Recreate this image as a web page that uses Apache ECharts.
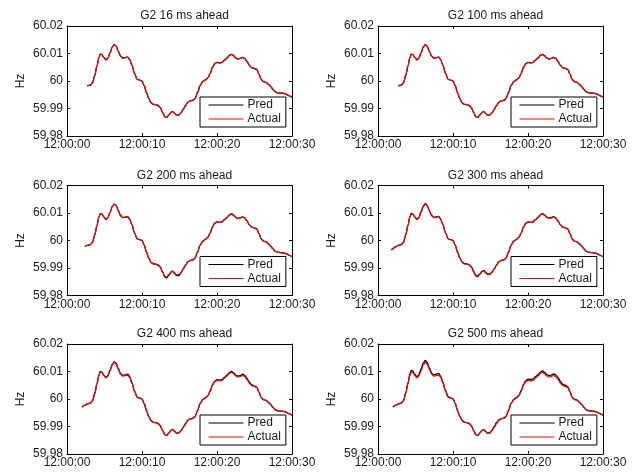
<!DOCTYPE html>
<html>
<head>
<meta charset="utf-8">
<script src="https://cdn.jsdelivr.net/npm/echarts@6/dist/echarts.min.js"></script>
<style>
  html, body { margin: 0; padding: 0; background: #fff; }
  #chart { width: 641px; height: 475px; }
</style>
</head>
<body>
<div id="chart"></div>
<script>
// Sample times, seconds after 12:00:00
const seconds = [
  1.8, 2.0, 2.4, 2.7, 3.1, 3.4, 3.7, 4.0, 4.25, 4.45,
  4.65, 4.9, 5.2, 5.45, 5.75, 6.05, 6.3, 6.55, 6.85, 7.15,
  7.45, 7.75, 8.1, 8.35, 8.65, 9.0, 9.35, 9.7, 10.0, 10.3,
  10.6, 10.9, 11.2, 11.5, 11.85, 12.15, 12.45, 12.75, 13.05, 13.3,
  13.6, 13.9, 14.1, 14.35, 14.6, 14.9, 15.2, 15.5, 15.8, 16.1,
  16.45, 16.8, 17.1, 17.4, 17.75, 18.1, 18.45, 18.8, 19.1, 19.4,
  19.7, 20.0, 20.35, 20.7, 21.0, 21.35, 21.65, 21.95, 22.2, 22.5,
  22.8, 23.1, 23.4, 23.7, 24.0, 24.3, 24.6, 24.95, 25.3, 25.6,
  25.9, 26.2, 26.55, 26.85, 27.15, 27.45, 27.75, 28.1, 28.5, 28.9,
  29.3, 29.65, 30.0
];

// Measured frequency of G2 (Hz)
const actualHz = [
  59.9965, 59.9971, 59.9978, 59.9982, 59.9985, 59.9993, 60.0020, 60.0055, 60.0085, 60.0098,
  60.0096, 60.0086, 60.0077, 60.0083, 60.0103, 60.0124, 60.0132, 60.0127, 60.0108, 60.0090,
  60.0083, 60.0085, 60.0087, 60.0078, 60.0058, 60.0028, 60.0006, 60.0003, 60.0000, 59.9983,
  59.9958, 59.9936, 59.9921, 59.9915, 59.9914, 59.9911, 59.9903, 59.9885, 59.9870, 59.9868,
  59.9877, 59.9887, 59.9889, 59.9882, 59.9876, 59.9876, 59.9884, 59.9897, 59.9910, 59.9922,
  59.9928, 59.9930, 59.9937, 59.9958, 59.9983, 59.9998, 60.0004, 60.0012, 60.0028, 60.0050,
  60.0063, 60.0068, 60.0066, 60.0068, 60.0076, 60.0084, 60.0093, 60.0097, 60.0092, 60.0084,
  60.0080, 60.0082, 60.0086, 60.0082, 60.0071, 60.0058, 60.0049, 60.0046, 60.0042, 60.0025,
  60.0005, 59.9998, 59.9995, 59.9988, 59.9980, 59.9970, 59.9961, 59.9957, 59.9956, 59.9955,
  59.9951, 59.9946, 59.9941
];

// Predicted frequency for each horizon (Hz)
const pred16Hz = [
  59.9965, 59.9971, 59.9978, 59.9982, 59.9985, 59.9993, 60.0020, 60.0055, 60.0085, 60.0098,
  60.0096, 60.0086, 60.0077, 60.0083, 60.0103, 60.0124, 60.0132, 60.0127, 60.0108, 60.0090,
  60.0083, 60.0085, 60.0087, 60.0078, 60.0058, 60.0028, 60.0006, 60.0003, 60.0000, 59.9983,
  59.9958, 59.9936, 59.9921, 59.9915, 59.9914, 59.9911, 59.9903, 59.9885, 59.9870, 59.9868,
  59.9877, 59.9887, 59.9889, 59.9882, 59.9876, 59.9876, 59.9884, 59.9897, 59.9910, 59.9922,
  59.9928, 59.9930, 59.9937, 59.9958, 59.9983, 59.9998, 60.0004, 60.0012, 60.0028, 60.0050,
  60.0063, 60.0068, 60.0066, 60.0068, 60.0076, 60.0084, 60.0093, 60.0097, 60.0092, 60.0084,
  60.0080, 60.0082, 60.0086, 60.0082, 60.0071, 60.0058, 60.0049, 60.0046, 60.0042, 60.0025,
  60.0005, 59.9998, 59.9995, 59.9988, 59.9980, 59.9970, 59.9961, 59.9957, 59.9956, 59.9955,
  59.9951, 59.9946, 59.9941
];
const pred100Hz = [
  59.9965, 59.9971, 59.9978, 59.9982, 59.9985, 59.9993, 60.0020, 60.0055, 60.0085, 60.0098,
  60.0096, 60.0086, 60.0077, 60.0083, 60.0103, 60.0124, 60.0132, 60.0127, 60.0108, 60.0090,
  60.0083, 60.0085, 60.0087, 60.0078, 60.0058, 60.0028, 60.0006, 60.0003, 60.0000, 59.9983,
  59.9958, 59.9936, 59.9921, 59.9915, 59.9914, 59.9911, 59.9903, 59.9885, 59.9870, 59.9868,
  59.9877, 59.9887, 59.9889, 59.9882, 59.9876, 59.9876, 59.9884, 59.9897, 59.9910, 59.9922,
  59.9928, 59.9930, 59.9937, 59.9958, 59.9983, 59.9998, 60.0004, 60.0012, 60.0028, 60.0050,
  60.0063, 60.0068, 60.0066, 60.0068, 60.0076, 60.0084, 60.0093, 60.0097, 60.0092, 60.0084,
  60.0080, 60.0082, 60.0086, 60.0082, 60.0071, 60.0058, 60.0049, 60.0046, 60.0042, 60.0025,
  60.0005, 59.9998, 59.9995, 59.9988, 59.9980, 59.9970, 59.9961, 59.9957, 59.9956, 59.9955,
  59.9951, 59.9946, 59.9941
];
const pred200Hz = [
  59.9965, 59.9971, 59.9978, 59.9982, 59.9985, 59.9993, 60.0020, 60.0055, 60.0085, 60.0098,
  60.0096, 60.0086, 60.0077, 60.0083, 60.0103, 60.0124, 60.0132, 60.0127, 60.0108, 60.0090,
  60.0083, 60.0085, 60.0087, 60.0078, 60.0058, 60.0028, 60.0006, 60.0003, 60.0000, 59.9983,
  59.9958, 59.9936, 59.9921, 59.9915, 59.9914, 59.9911, 59.9903, 59.9884, 59.9867, 59.9864,
  59.9874, 59.9886, 59.9888, 59.9880, 59.9873, 59.9872, 59.9882, 59.9897, 59.9910, 59.9922,
  59.9928, 59.9930, 59.9937, 59.9958, 59.9983, 59.9998, 60.0004, 60.0012, 60.0028, 60.0050,
  60.0063, 60.0068, 60.0066, 60.0068, 60.0076, 60.0084, 60.0093, 60.0097, 60.0092, 60.0084,
  60.0080, 60.0082, 60.0086, 60.0082, 60.0071, 60.0058, 60.0049, 60.0046, 60.0042, 60.0025,
  60.0005, 59.9998, 59.9995, 59.9988, 59.9980, 59.9970, 59.9961, 59.9957, 59.9956, 59.9955,
  59.9951, 59.9946, 59.9941
];
const pred300Hz = [
  59.9965, 59.9971, 59.9978, 59.9982, 59.9985, 59.9993, 60.0020, 60.0055, 60.0086, 60.0099,
  60.0096, 60.0086, 60.0077, 60.0084, 60.0105, 60.0126, 60.0134, 60.0128, 60.0109, 60.0091,
  60.0084, 60.0086, 60.0088, 60.0078, 60.0058, 60.0028, 60.0006, 60.0003, 60.0000, 59.9983,
  59.9958, 59.9937, 59.9922, 59.9916, 59.9915, 59.9912, 59.9905, 59.9888, 59.9873, 59.9871,
  59.9879, 59.9889, 59.9891, 59.9885, 59.9879, 59.9878, 59.9885, 59.9897, 59.9910, 59.9922,
  59.9928, 59.9930, 59.9937, 59.9958, 59.9983, 59.9998, 60.0004, 60.0012, 60.0028, 60.0049,
  60.0062, 60.0067, 60.0066, 60.0068, 60.0076, 60.0084, 60.0094, 60.0098, 60.0093, 60.0085,
  60.0081, 60.0083, 60.0087, 60.0082, 60.0071, 60.0058, 60.0049, 60.0046, 60.0042, 60.0025,
  60.0005, 59.9998, 59.9995, 59.9988, 59.9980, 59.9970, 59.9961, 59.9957, 59.9956, 59.9955,
  59.9951, 59.9946, 59.9941
];
const pred400Hz = [
  59.9965, 59.9971, 59.9978, 59.9982, 59.9985, 59.9993, 60.0020, 60.0056, 60.0087, 60.0100,
  60.0098, 60.0087, 60.0078, 60.0085, 60.0106, 60.0127, 60.0135, 60.0130, 60.0110, 60.0092,
  60.0086, 60.0088, 60.0090, 60.0082, 60.0060, 60.0029, 60.0007, 60.0003, 60.0000, 59.9983,
  59.9958, 59.9936, 59.9921, 59.9915, 59.9914, 59.9911, 59.9903, 59.9885, 59.9870, 59.9868,
  59.9877, 59.9887, 59.9889, 59.9882, 59.9876, 59.9876, 59.9884, 59.9897, 59.9910, 59.9922,
  59.9928, 59.9930, 59.9937, 59.9958, 59.9983, 59.9998, 60.0004, 60.0013, 60.0030, 60.0052,
  60.0065, 60.0070, 60.0069, 60.0071, 60.0079, 60.0087, 60.0096, 60.0100, 60.0095, 60.0087,
  60.0083, 60.0085, 60.0090, 60.0086, 60.0075, 60.0062, 60.0052, 60.0048, 60.0043, 60.0025,
  60.0005, 59.9998, 59.9995, 59.9988, 59.9980, 59.9970, 59.9961, 59.9957, 59.9956, 59.9955,
  59.9951, 59.9946, 59.9941
];
const pred500Hz = [
  59.9965, 59.9971, 59.9978, 59.9982, 59.9985, 59.9994, 60.0023, 60.0059, 60.0090, 60.0104,
  60.0101, 60.0090, 60.0080, 60.0088, 60.0110, 60.0132, 60.0140, 60.0133, 60.0113, 60.0094,
  60.0087, 60.0090, 60.0093, 60.0083, 60.0061, 60.0030, 60.0008, 60.0004, 60.0001, 59.9984,
  59.9959, 59.9938, 59.9923, 59.9916, 59.9914, 59.9911, 59.9903, 59.9885, 59.9870, 59.9868,
  59.9877, 59.9887, 59.9889, 59.9882, 59.9876, 59.9877, 59.9886, 59.9900, 59.9914, 59.9924,
  59.9929, 59.9931, 59.9938, 59.9959, 59.9984, 59.9999, 60.0005, 60.0014, 60.0031, 60.0054,
  60.0066, 60.0072, 60.0071, 60.0073, 60.0081, 60.0089, 60.0098, 60.0102, 60.0097, 60.0089,
  60.0085, 60.0087, 60.0091, 60.0088, 60.0078, 60.0065, 60.0054, 60.0050, 60.0045, 60.0027,
  60.0006, 59.9999, 59.9996, 59.9988, 59.9980, 59.9970, 59.9961, 59.9957, 59.9956, 59.9955,
  59.9951, 59.9946, 59.9941
];

const horizonsMs = [16, 100, 200, 300, 400, 500];
const predSeries = [pred16Hz, pred100Hz, pred200Hz, pred300Hz, pred400Hz, pred500Hz];
// First sample shown in each panel
const firstSample = [3, 3, 2, 0, 1, 1];

const xTickLabels = ['12:00:00', '12:00:10', '12:00:20', '12:00:30'];
const yTickLabels = ['59.98', '59.99', '60', '60.01', '60.02'];

const FONT = '"Liberation Sans", Arial, Helvetica, sans-serif';
const INK = '#1a1a1a';

const colLeft = [67, 378];
const rowTop = [26, 185.5, 344];
const plotW = 225, plotH = 110;

const grids = [], xAxes = [], yAxes = [], titles = [], legends = [], series = [];

horizonsMs.forEach((ms, p) => {
  const col = p % 2, row = Math.floor(p / 2);
  const left = colLeft[col], top = rowTop[row];
  grids.push({ left: left, top: top, width: plotW, height: plotH, containLabel: false });

  const xBase = {
    type: 'value', gridIndex: p, min: 0, max: 30, interval: 10,
    axisLine: { show: true, onZero: false, lineStyle: { color: '#000', width: 1 } },
    axisTick: { show: true, inside: true, length: 3, lineStyle: { color: '#000' } },
    splitLine: { show: false }
  };
  xAxes.push(Object.assign({}, xBase, {
    position: 'bottom',
    axisLabel: {
      show: true, margin: 3, fontSize: 12, fontFamily: FONT, color: INK,
      formatter: v => xTickLabels[Math.round(v / 10)]
    }
  }));
  xAxes.push(Object.assign({}, xBase, { position: 'top', axisLabel: { show: false } }));

  const yBase = {
    type: 'value', gridIndex: p, min: 59.98, max: 60.02, interval: 0.01,
    axisLine: { show: true, onZero: false, lineStyle: { color: '#000', width: 1 } },
    axisTick: { show: true, inside: true, length: 3, lineStyle: { color: '#000' } },
    splitLine: { show: false }
  };
  yAxes.push(Object.assign({}, yBase, {
    position: 'left',
    name: 'Hz', nameLocation: 'middle', nameGap: 40,
    nameTextStyle: { fontSize: 12, fontFamily: FONT, color: INK },
    axisLabel: {
      show: true, margin: 4, fontSize: 12, fontFamily: FONT, color: INK,
      formatter: v => yTickLabels[Math.round((v - 59.98) / 0.01)]
    }
  }));
  yAxes.push(Object.assign({}, yBase, { position: 'right', axisLabel: { show: false } }));

  titles.push({
    text: 'G2 ' + ms + ' ms ahead',
    left: left + plotW / 2, top: top - 21, textAlign: 'center',
    textStyle: { fontSize: 12, fontWeight: 'normal', fontFamily: FONT, color: INK }
  });

  legends.push({
    orient: 'vertical',
    left: left + 133, top: top + 71,
    data: ['Pred', 'Actual'],
    itemWidth: 35, itemHeight: 14, itemGap: 2,
    padding: [2, 5, 2, 8],
    backgroundColor: '#fff', borderColor: '#000', borderWidth: 1, borderRadius: 0,
    selectedMode: false,
    itemStyle: { opacity: 0, borderWidth: 0 },
    lineStyle: { width: 1 },
    textStyle: { fontSize: 12, fontFamily: FONT, color: INK, padding: [0, 0, 0, -1] }
  });

  const start = firstSample[p];
  const pts = vals => seconds.slice(start).map((t, i) => [t, vals[start + i]]);
  const lineBase = {
    type: 'line', xAxisIndex: 2 * p, yAxisIndex: 2 * p,
    symbol: 'none', smooth: 0.35, smoothMonotone: 'x', silent: true
  };
  series.push(Object.assign({}, lineBase, {
    name: 'Pred', data: pts(predSeries[p]),
    lineStyle: { color: '#000', width: 1.3 }, itemStyle: { color: '#000' }
  }));
  series.push(Object.assign({}, lineBase, {
    name: 'Actual', data: pts(actualHz),
    lineStyle: { color: '#f00', width: 1.2 }, itemStyle: { color: '#f00' }
  }));
});

const chart = echarts.init(document.getElementById('chart'), null, { renderer: 'canvas' });
chart.setOption({
  animation: false,
  backgroundColor: '#fff',
  title: titles,
  legend: legends,
  grid: grids,
  xAxis: xAxes,
  yAxis: yAxes,
  series: series
});
</script>
</body>
</html>
